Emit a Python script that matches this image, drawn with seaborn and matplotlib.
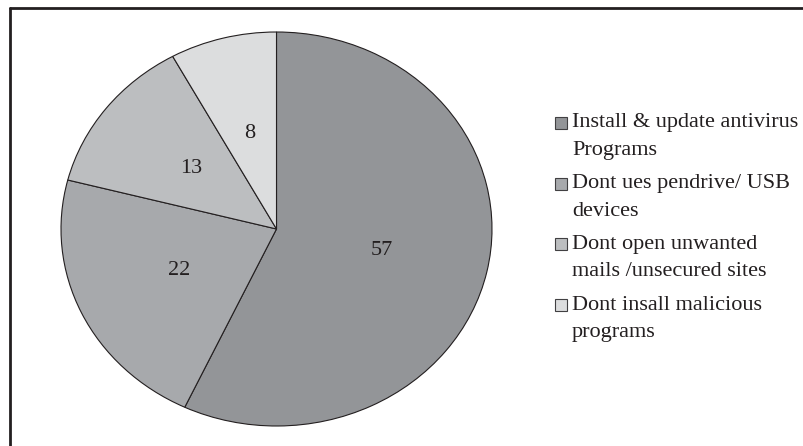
import numpy as np
import matplotlib
matplotlib.use("Agg")
import matplotlib.pyplot as plt
import seaborn as sns
from matplotlib.lines import Line2D
from matplotlib.patches import Rectangle

sns.set_theme(style="white")
plt.rcParams['font.family'] = ['Liberation Serif', 'DejaVu Serif']

categories = ["Install & update antivirus\nPrograms",
              "Dont ues pendrive/ USB\ndevices",
              "Dont open unwanted\nmails /unsecured sites",
              "Dont insall malicious\nprograms"]
values = [57, 22, 13, 8]
colors = ["#939598", "#a7a9ac", "#bcbec0", "#dcddde"]

W, H = 804, 446
fig = plt.figure(figsize=(W / 100, H / 100), dpi=100)
ax = fig.add_axes([61 / W, (H - 426) / H, 431 / W, 394 / H])
wedges, _ = ax.pie(values, colors=colors, startangle=90, counterclock=False,
                   wedgeprops=dict(edgecolor="#231f20", linewidth=0.8))
ax.set_aspect("auto")
ax.set_xlim(-1, 1)
ax.set_ylim(-1, 1)
ax.axis("off")

for w, v in zip(wedges, values):
    ang = np.deg2rad((w.theta1 + w.theta2) / 2)
    ax.text(0.5 * np.cos(ang), 0.5 * np.sin(ang), str(v), ha="center", va="center",
            fontsize=16, color="#231f20")

# legend (square handle aligned with the first line of each wrapped label)
y_first = 123
item_step = 60.7
line_step = 27.5
sq = 12
for i, (lab, c) in enumerate(zip(categories, colors)):
    yc = y_first + i * item_step
    fig.add_artist(Rectangle((555 / W, 1 - (yc + sq / 2) / H), sq / W, sq / H,
                             facecolor=c, edgecolor="#414042", linewidth=0.8,
                             transform=fig.transFigure))
    for j, line in enumerate(lab.split("\n")):
        fig.text(572 / W, 1 - (yc + j * line_step) / H, line, ha="left",
                 va="center", fontsize=16, color="#231f20")

# outer frame (top and left edges visible)
fig.add_artist(Line2D([10.5 / W, 1], [1 - 8 / H, 1 - 8 / H], color="#231f20", lw=2))
fig.add_artist(Line2D([10.5 / W, 10.5 / W], [0, 1 - 8 / H], color="#231f20", lw=2))

fig.savefig("out.png", dpi=100, facecolor="white")
